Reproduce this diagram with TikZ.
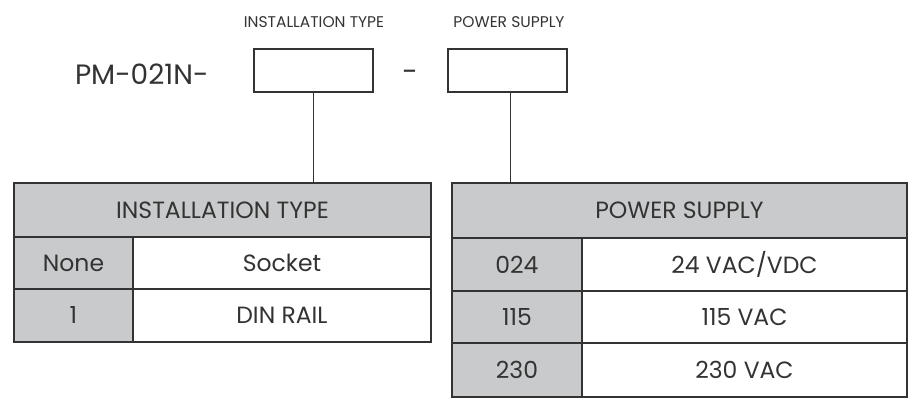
\documentclass[tikz,border=0pt]{standalone}
\usepackage{fontspec}
\setmainfont{Poppins}
\begin{document}
\begin{tikzpicture}[x=1pt,y=-1pt,
  every node/.style={inner sep=0pt,outer sep=0pt,text=ink},
  frame/.style={draw=ink,line width=1.5pt},
  cellfont/.style={font=\fontsize{23.5}{25}\selectfont},
  hdr/.style={frame,fill=cellgray,anchor=north west,cellfont},
  key/.style={frame,fill=cellgray,anchor=north west,cellfont},
  val/.style={frame,fill=white,anchor=north west,cellfont},
  slot/.style={frame,fill=white,anchor=north west,minimum width=119pt,minimum height=43pt},
  toplabel/.style={font=\fontsize{15.5}{17}\selectfont},
  link/.style={draw=ink,line width=1.5pt}]
\definecolor{ink}{HTML}{333333}
\definecolor{cellgray}{HTML}{C9CACB}
\useasboundingbox (0,0) rectangle (919,409);
% top
\node[toplabel] (lab1) at (314,22) {INSTALLATION TYPE};
\node[toplabel] (lab2) at (509,22) {POWER SUPPLY};
\node[font=\fontsize{28}{30}\selectfont,anchor=west] (code) at (75,74) {PM-021N-};
\node[slot] (box1) at (254,49) {};
\node[font=\fontsize{28}{30}\selectfont] (dash) at (410,76) {-};
\node[slot] (box2) at (448,49) {};
% table 1
\node[hdr,minimum width=417pt,minimum height=54pt] (h1) at (14,183) {INSTALLATION TYPE};
\node[key,minimum width=119pt,minimum height=52pt] (k11) at (14,237) {None};
\node[val,minimum width=298pt,minimum height=52pt] (v11) at (133,237) {Socket};
\node[key,minimum width=119pt,minimum height=53pt] (k12) at (14,289) {1};
\node[val,minimum width=298pt,minimum height=53pt] (v12) at (133,289) {DIN RAIL};
% table 2
\node[hdr,minimum width=455pt,minimum height=55pt] (h2) at (452,183) {POWER SUPPLY};
\node[key,minimum width=130pt,minimum height=53pt] (k21) at (452,238) {024};
\node[val,minimum width=325pt,minimum height=53pt] (v21) at (582,238) {24 VAC/VDC};
\node[key,minimum width=130pt,minimum height=52pt] (k22) at (452,291) {115};
\node[val,minimum width=325pt,minimum height=52pt] (v22) at (582,291) {115 VAC};
\node[key,minimum width=130pt,minimum height=54pt] (k23) at (452,343) {230};
\node[val,minimum width=325pt,minimum height=54pt] (v23) at (582,343) {230 VAC};
% connectors
\draw[link] (box1.south) -- (box1.south |- h1.north);
\draw[link] ([xshift=3pt]box2.south) -- ([xshift=3pt]box2.south |- h2.north);
\end{tikzpicture}
\end{document}
